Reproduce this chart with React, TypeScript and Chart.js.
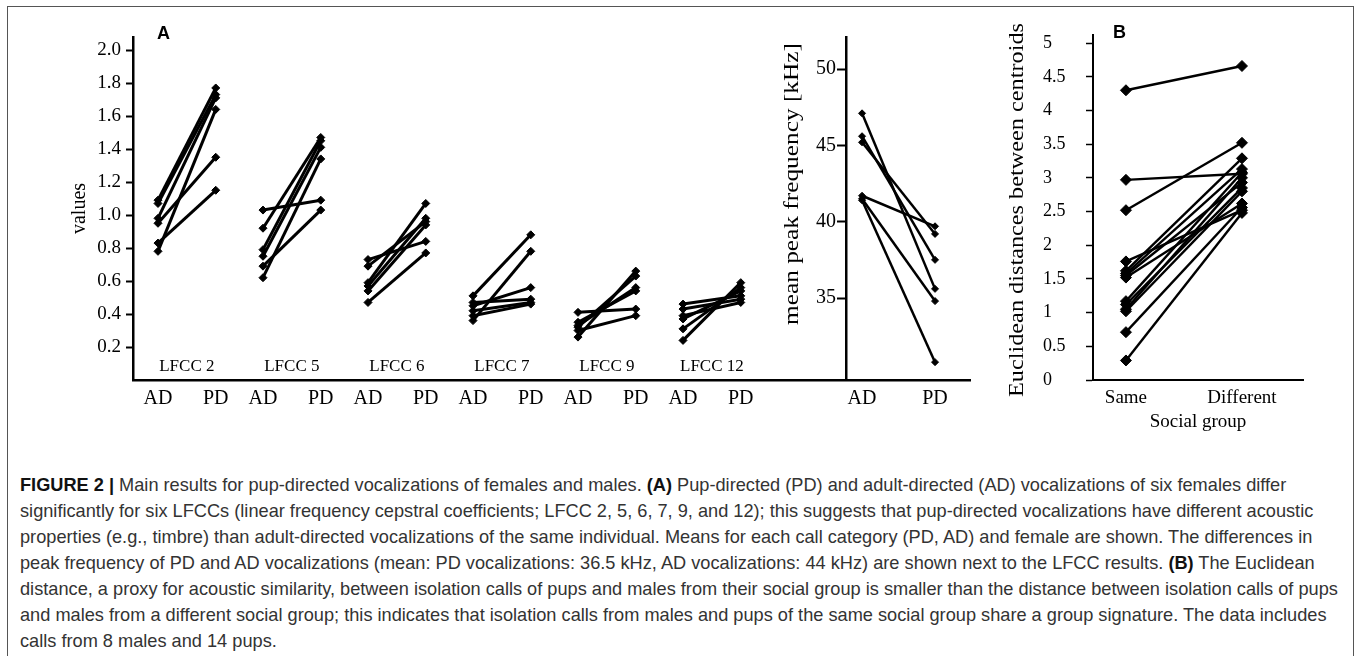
import React, { useEffect, useRef } from "react";
import { Chart, registerables } from "chart.js";
Chart.register(...registerables);

// ---------- Panel A: LFCC values (6 females, AD vs PD) ----------
const lfccLabels = ["LFCC 2", "LFCC 5", "LFCC 6", "LFCC 7", "LFCC 9", "LFCC 12"];
const lfccPositions = [0, 1, 2, 3, 4, 5];
const pdOffset = 0.55;
const lfcc2AD = [1.09, 1.07, 0.98, 0.95, 0.83, 0.78];
const lfcc2PD = [1.77, 1.73, 1.71, 1.35, 1.15, 1.64];
const lfcc5AD = [1.03, 0.92, 0.79, 0.75, 0.69, 0.62];
const lfcc5PD = [1.09, 1.47, 1.45, 1.41, 1.03, 1.34];
const lfcc6AD = [0.73, 0.69, 0.59, 0.57, 0.54, 0.47];
const lfcc6PD = [0.84, 0.96, 1.07, 0.98, 0.94, 0.77];
const lfcc7AD = [0.51, 0.47, 0.45, 0.42, 0.39, 0.36];
const lfcc7PD = [0.88, 0.49, 0.56, 0.47, 0.46, 0.78];
const lfcc9AD = [0.41, 0.35, 0.33, 0.32, 0.3, 0.26];
const lfcc9PD = [0.43, 0.54, 0.56, 0.63, 0.39, 0.66];
const lfcc12AD = [0.46, 0.43, 0.39, 0.37, 0.31, 0.24];
const lfcc12PD = [0.51, 0.49, 0.47, 0.54, 0.56, 0.59];
const valueTicks = [0.2, 0.4, 0.6, 0.8, 1.0, 1.2, 1.4, 1.6, 1.8, 2.0];
const conditionLabels = ["AD", "PD"];

// ---------- Panel A (right): mean peak frequency ----------
const peakPositions = [6.705, 7.4];
const peakAxisAt = 6.552;
const peakAD = [47.1, 45.6, 45.2, 41.7, 41.5, 41.4];
const peakPD = [35.6, 37.5, 39.2, 39.7, 34.8, 30.8];
const peakTicks = [35, 40, 45, 50];

// ---------- Panel B: Euclidean distances ----------
const socialGroups = ["Same", "Different"];
const sameGroup = [4.3, 2.97, 2.52, 1.76, 1.62, 1.58, 1.55, 1.52, 1.17, 1.12, 1.05, 1.02, 0.71, 0.29];
const differentGroup = [4.66, 3.06, 3.52, 2.52, 3.29, 3.13, 2.93, 2.62, 3.08, 2.85, 3.0, 2.8, 2.56, 2.48];
const distanceTicks = [0, 0.5, 1, 1.5, 2, 2.5, 3, 3.5, 4, 4.5, 5];

const SERIF = "'Liberation Serif', 'Times New Roman', serif";
const SANS = "'Liberation Sans', Arial, sans-serif";

function drawText(
  ctx: CanvasRenderingContext2D,
  text: string,
  x: number,
  y: number,
  font: string,
  opts: { rotate?: boolean; align?: CanvasTextAlign; baseline?: CanvasTextBaseline; length?: number } = {}
) {
  ctx.save();
  ctx.font = font;
  ctx.fillStyle = "#000";
  ctx.textAlign = opts.align ?? "center";
  ctx.textBaseline = opts.baseline ?? "middle";
  ctx.translate(x, y);
  if (opts.rotate) ctx.rotate(-Math.PI / 2);
  if (opts.length) {
    const w = ctx.measureText(text).width;
    ctx.scale(opts.length / w, 1);
  }
  ctx.fillText(text, 0, 0);
  ctx.restore();
}

function PanelA() {
  const ref = useRef<HTMLCanvasElement>(null);
  useEffect(() => {
    const lfccAD = [lfcc2AD, lfcc5AD, lfcc6AD, lfcc7AD, lfcc9AD, lfcc12AD];
    const lfccPD = [lfcc2PD, lfcc5PD, lfcc6PD, lfcc7PD, lfcc9PD, lfcc12PD];
    const datasets: any[] = [];
    lfccAD.forEach((ad, g) =>
      ad.forEach((v, i) =>
        datasets.push({
          data: [
            { x: lfccPositions[g], y: v },
            { x: lfccPositions[g] + pdOffset, y: lfccPD[g][i] },
          ],
          yAxisID: "y",
          borderColor: "#000",
          backgroundColor: "#000",
          borderWidth: 3,
          pointStyle: "rectRot",
          pointRadius: 4,
          pointBorderWidth: 1,
        })
      )
    );
    peakAD.forEach((v, i) =>
      datasets.push({
        data: [
          { x: peakPositions[0], y: v },
          { x: peakPositions[1], y: peakPD[i] },
        ],
        yAxisID: "y2",
        borderColor: "#000",
        backgroundColor: "#000",
        borderWidth: 2.5,
        pointStyle: "rectRot",
        pointRadius: 3.5,
        pointBorderWidth: 1,
      })
    );
    const xTickValues: number[] = [];
    const xTickLabels: string[] = [];
    lfccPositions.forEach((p) => {
      xTickValues.push(p, p + pdOffset);
      xTickLabels.push(...conditionLabels);
    });
    xTickValues.push(...peakPositions);
    xTickLabels.push(...conditionLabels);

    const textsPlugin = {
      id: "textsA",
      afterDraw(chart: any) {
        const ctx = chart.ctx as CanvasRenderingContext2D;
        const xs = chart.scales.x;
        const y2 = chart.scales.y2;
        const ca = chart.chartArea;
        lfccLabels.forEach((lab, g) => {
          drawText(ctx, lab, xs.getPixelForValue(lfccPositions[g] + pdOffset / 2), ca.bottom - 13, `17px ${SERIF}`);
        });
        drawText(ctx, "values", 80, (ca.top + ca.bottom) / 2, `20px ${SERIF}`, { rotate: true });
        const axisX = xs.getPixelForValue(peakAxisAt);
        peakTicks.forEach((t) => {
          drawText(ctx, String(t), axisX - 10, y2.getPixelForValue(t), `20px ${SERIF}`, { align: "right" });
        });
        drawText(ctx, "mean peak frequency [kHz]", axisX - 53, 184, `20px ${SERIF}`, { rotate: true, length: 282 });
        drawText(ctx, "A", 157, 39, `bold 18px ${SANS}`, { align: "left", baseline: "alphabetic" });
      },
    };

    const chart = new Chart(ref.current!, {
      type: "line",
      data: { datasets },
      plugins: [textsPlugin],
      options: {
        animation: false,
        responsive: false,
        events: [],
        layout: { padding: { left: 0, right: 30, top: 37, bottom: 0 } },
        plugins: { legend: { display: false }, tooltip: { enabled: false } },
        scales: {
          x: {
            type: "linear",
            min: -0.238,
            max: 7.733,
            afterBuildTicks: (s: any) => {
              s.ticks = xTickValues.map((v) => ({ value: v }));
            },
            afterFit: (s: any) => {
              s.height = 50;
            },
            ticks: {
              callback: (_v: any, i: number) => xTickLabels[i],
              autoSkip: false,
              maxRotation: 0,
              padding: 7,
              color: "#000",
              font: { family: SERIF, size: 20 },
            },
            grid: { display: true, drawOnChartArea: false, drawTicks: false },
            border: { display: true, color: "#000", width: 2.5 },
          },
          y: {
            type: "linear",
            position: "left",
            min: 0,
            max: 2.079,
            afterBuildTicks: (s: any) => {
              s.ticks = valueTicks.map((v) => ({ value: v }));
            },
            afterFit: (s: any) => {
              s.width = 133;
            },
            ticks: {
              callback: (v: any) => Number(v).toFixed(1),
              padding: 5,
              color: "#000",
              font: { family: SERIF, size: 19 },
            },
            grid: { display: true, drawOnChartArea: false, tickLength: 7, tickColor: "#000", tickWidth: 2 },
            border: { display: true, color: "#000", width: 2.5 },
          },
          y2: {
            type: "linear",
            axis: "y",
            position: { x: peakAxisAt } as any,
            min: 29.63,
            max: 52.1,
            afterBuildTicks: (s: any) => {
              s.ticks = peakTicks.map((v) => ({ value: v }));
            },
            ticks: { display: false },
            grid: { display: true, drawOnChartArea: false, tickLength: 8, tickColor: "#000", tickWidth: 2 },
            border: { display: true, color: "#000", width: 2.5 },
          },
        },
      } as any,
    });
    return () => chart.destroy();
  }, []);
  return (
    <canvas
      ref={ref}
      width={1000}
      height={430}
      style={{ position: "absolute", left: 0, top: 0, width: 1000, height: 430 }}
    />
  );
}

function PanelB() {
  const ref = useRef<HTMLCanvasElement>(null);
  useEffect(() => {
    const datasets = sameGroup.map((v, i) => ({
      data: [
        { x: 0, y: v },
        { x: 1, y: differentGroup[i] },
      ],
      borderColor: "#000",
      backgroundColor: "#000",
      borderWidth: 2.4,
      pointStyle: "rectRot",
      pointRadius: 5.5,
      pointBorderWidth: 1,
    }));
    const textsPlugin = {
      id: "textsB",
      afterDraw(chart: any) {
        const ctx = chart.ctx as CanvasRenderingContext2D;
        const ca = chart.chartArea;
        drawText(ctx, "Euclidean distances between centroids", 27, 210, `21px ${SERIF}`, { rotate: true, length: 374 });
        drawText(ctx, "Social group", (ca.left + ca.right) / 2, 422, `19px ${SERIF}`);
        drawText(ctx, "B", 123, 38, `bold 18px ${SANS}`, { align: "left", baseline: "alphabetic" });
      },
    };
    const chart = new Chart(ref.current!, {
      type: "line",
      data: { datasets },
      plugins: [textsPlugin],
      options: {
        animation: false,
        responsive: false,
        events: [],
        layout: { padding: { left: 53, right: 37, top: 35, bottom: 0 } },
        plugins: { legend: { display: false }, tooltip: { enabled: false } },
        scales: {
          x: {
            type: "linear",
            min: -0.284,
            max: 1.526,
            afterBuildTicks: (s: any) => {
              s.ticks = socialGroups.map((_g, i) => ({ value: i }));
            },
            afterFit: (s: any) => {
              s.height = 60;
            },
            ticks: {
              callback: (_v: any, i: number) => socialGroups[i],
              autoSkip: false,
              maxRotation: 0,
              padding: 7,
              color: "#000",
              font: { family: SERIF, size: 19 },
            },
            grid: { display: true, drawOnChartArea: false, drawTicks: false },
            border: { display: true, color: "#000", width: 2 },
          },
          y: {
            type: "linear",
            min: 0,
            max: 5.12,
            afterBuildTicks: (s: any) => {
              s.ticks = distanceTicks.map((v) => ({ value: v }));
            },
            afterFit: (s: any) => {
              s.width = 50;
            },
            ticks: {
              callback: (v: any) => String(v),
              crossAlign: "far",
              padding: 4,
              color: "#000",
              font: { family: SERIF, size: 18 },
            },
            grid: { display: true, drawOnChartArea: false, tickLength: 7, tickColor: "#000", tickWidth: 1.5 },
            border: { display: true, color: "#000", width: 2 },
          },
        },
      } as any,
    });
    return () => chart.destroy();
  }, []);
  return (
    <canvas
      ref={ref}
      width={350}
      height={440}
      style={{ position: "absolute", left: 990, top: 0, width: 350, height: 440 }}
    />
  );
}

export default function App() {
  return (
    <div
      style={{
        position: "absolute",
        left: 0,
        top: 0,
        width: 1357,
        height: 656,
        overflow: "hidden",
        background: "#fff",
      }}
    >
      <div
        style={{
          position: "absolute",
          left: 7,
          top: 6,
          width: 1347,
          height: 700,
          border: "1.5px solid #555",
          boxSizing: "border-box",
        }}
      />
      <PanelA />
      <PanelB />
      <div
        style={{
          position: "absolute",
          left: 20,
          top: 472,
          fontFamily: "'Liberation Sans', Arial, sans-serif",
          fontSize: 18.2,
          lineHeight: "26px",
          color: "#333",
          whiteSpace: "nowrap",
        }}
      >
        <b style={{ color: "#111" }}>FIGURE 2 |</b> Main results for pup-directed vocalizations of females and males.{" "}
        <b style={{ color: "#111" }}>(A)</b> Pup-directed (PD) and adult-directed (AD) vocalizations of six females differ
        <br />
        significantly for six LFCCs (linear frequency cepstral coefficients; LFCC 2, 5, 6, 7, 9, and 12); this suggests that
        pup-directed vocalizations have different acoustic
        <br />
        properties (e.g., timbre) than adult-directed vocalizations of the same individual. Means for each call category (PD,
        AD) and female are shown. The differences in
        <br />
        peak frequency of PD and AD vocalizations (mean: PD vocalizations: 36.5 kHz, AD vocalizations: 44 kHz) are shown next
        to the LFCC results. <b style={{ color: "#111" }}>(B)</b> The Euclidean
        <br />
        distance, a proxy for acoustic similarity, between isolation calls of pups and males from their social group is
        smaller than the distance between isolation calls of pups
        <br />
        and males from a different social group; this indicates that isolation calls from males and pups of the same social
        group share a group signature. The data includes
        <br />
        calls from 8 males and 14 pups.
      </div>
    </div>
  );
}
